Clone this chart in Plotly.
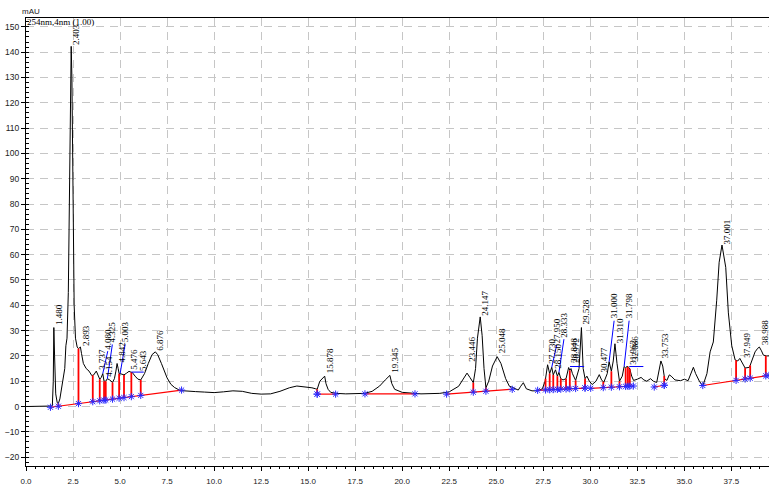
import numpy as np
import plotly.graph_objects as go

# ---------------- data ----------------
time_min = [0.0, 1.30, 1.40, 1.45, 1.48, 1.52, 1.58, 1.66, 1.72, 1.80, 1.90, 2.00, 2.06, 2.12, 2.18,
            2.25, 2.32, 2.37, 2.403, 2.44, 2.50, 2.56, 2.63, 2.72, 2.79, 2.893, 2.95, 3.05, 3.20,
            3.35, 3.50, 3.60, 3.737, 3.85, 3.92, 4.00, 4.080, 4.15, 4.24, 4.325, 4.45, 4.60, 4.70,
            4.78, 4.842, 4.90, 4.95, 5.003, 5.10, 5.21, 5.35, 5.476, 5.60, 5.643, 5.80, 5.95, 6.10,
            6.30, 6.50, 6.70, 6.876, 7.00, 7.20, 7.35, 7.50, 7.70, 7.90, 8.20, 8.60, 9.00, 9.50,
            10.0, 10.5, 11.0, 11.5, 12.0, 12.5, 13.0, 13.5, 14.0, 14.4, 14.8, 15.2, 15.40, 15.48,
            15.62, 15.75, 15.878, 15.95, 16.06, 16.2, 16.5, 17.0, 17.5, 18.0, 18.4, 18.8, 19.1,
            19.345, 19.45, 19.6, 20.0, 20.5, 21.0, 22.0, 22.5, 23.0, 23.25, 23.446, 23.6, 23.78,
            23.9, 24.0, 24.147, 24.25, 24.35, 24.45, 24.6, 24.8, 25.048, 25.25, 25.5, 25.7, 25.82,
            26.0, 26.17, 26.3, 26.44, 26.6, 26.9, 27.2, 27.45, 27.6, 27.73, 27.84, 27.95, 28.03,
            28.15, 28.25, 28.333, 28.43, 28.55, 28.71, 28.848, 28.91, 28.972, 29.05, 29.22, 29.4,
            29.528, 29.62, 29.72, 29.82, 29.95, 30.1, 30.3, 30.477, 30.6, 30.72, 30.9, 31.000,
            31.12, 31.22, 31.310, 31.42, 31.55, 31.7, 31.798, 31.88, 31.962, 32.02, 32.086, 32.2,
            32.3, 32.5, 32.7, 32.85, 33.0, 33.2, 33.35, 33.53, 33.68, 33.753, 33.85, 33.95, 34.07,
            34.2, 34.3, 34.5, 34.8, 35.0, 35.2, 35.35, 35.48, 35.6, 35.8, 35.98, 36.2, 36.37, 36.54,
            36.72, 36.85, 37.001, 37.1, 37.2, 37.34, 37.52, 37.7, 37.84, 37.949, 38.1, 38.23, 38.46,
            38.6, 38.76, 38.9, 38.988, 39.1, 39.2, 39.36, 39.5]
signal_mau = [0.0, 0.0, 0.2, 10.0, 31.2, 20.0, 5.0, 1.5, 1.2, 3.0, 8.0, 13.0, 15.0, 24.0, 27.0,
              45.0, 95.0, 135.0, 142.3, 130.0, 80.0, 40.0, 27.0, 23.5, 22.9, 23.5, 21.0, 17.0, 15.0,
              14.0, 12.2, 12.5, 14.0, 11.5, 10.8, 11.5, 13.0, 10.0, 10.0, 11.0, 10.5, 9.5, 11.0,
              14.0, 17.0, 15.0, 13.0, 13.0, 12.8, 12.5, 13.2, 13.9, 13.5, 13.5, 12.0, 10.8, 10.5,
              13.0, 17.0, 20.5, 21.6, 20.5, 17.0, 14.0, 11.3, 8.8, 7.5, 6.3, 6.0, 5.9, 5.7,
              5.5, 5.8, 6.2, 6.0, 5.2, 4.9, 5.0, 6.0, 7.4, 8.1, 7.8, 7.4, 7.0, 6.8,
              10.0, 11.0, 12.0, 9.0, 6.8, 5.6, 5.2, 5.0, 5.0, 5.2, 6.0, 8.1, 10.5,
              12.3, 9.0, 6.8, 5.6, 5.2, 5.0, 5.2, 5.8, 8.0, 11.0, 13.2, 11.5, 9.4,
              15.0, 27.0, 35.4, 28.0, 15.0, 7.4, 10.0, 16.0, 19.7, 17.0, 11.0, 8.0, 7.7,
              7.2, 6.5, 8.0, 9.4, 7.0, 6.2, 6.2, 7.0, 10.0, 16.5, 13.0, 15.5, 12.5,
              14.5, 12.0, 13.5, 11.0, 10.5, 11.0, 15.4, 14.3, 15.0, 13.0, 10.3, 15.0,
              31.2, 15.0, 11.0, 12.0, 10.0, 8.7, 10.0, 12.6, 10.5, 9.6, 13.0, 17.7,
              13.9, 18.0, 24.8, 17.0, 10.0, 12.0, 15.8, 15.2, 16.0, 15.5, 15.2, 12.0,
              10.3, 10.8, 11.5, 10.5, 10.0, 11.0, 10.0, 9.5, 15.0, 18.0, 16.0, 11.0, 10.3,
              12.5, 12.0, 10.5, 10.2, 10.8, 10.2, 13.0, 15.5, 13.0, 10.0, 8.1, 13.0, 21.6, 25.5,
              42.0, 57.0, 63.8, 60.0, 55.0, 37.0, 24.0, 18.4, 18.0, 19.0, 17.0, 15.2, 15.5,
              18.0, 21.6, 23.0, 23.5, 22.0, 20.3, 20.0, 20.0]

peak_rt = [1.480, 2.403, 2.893, 3.737, 4.080, 4.154, 4.325, 4.842, 5.003, 5.476, 5.643, 6.876,
           15.878, 19.345, 23.446, 24.147, 25.048, 27.730, 27.950, 28.150, 28.333, 28.848,
           28.972, 29.528, 30.477, 31.000, 31.310, 31.798, 31.962, 32.086, 33.753, 37.001,
           37.949, 38.988]

# integration baselines (start time, start value, end time, end value)
base_t0 = [1.30, 15.48, 18.02, 22.36, 27.20, 30.02, 33.40, 35.98]
base_v0 = [-0.3, 4.9, 5.0, 4.9, 6.4, 7.2, 7.7, 8.3]
base_t1 = [8.27, 16.46, 20.68, 25.85, 29.72, 32.29, 33.93, 39.50]
base_v1 = [6.5, 4.9, 5.0, 6.8, 7.3, 8.1, 8.4, 12.3]

# peak boundary drop lines (times)
drop_t = [1.72, 2.79, 3.55, 3.92, 4.15, 4.24, 4.60, 4.95, 5.21, 5.60, 6.10,
          15.48, 23.78, 24.45,
          27.62, 27.84, 28.03, 28.25, 28.43, 28.71, 28.91, 29.22, 29.72,
          30.69, 31.12, 31.55, 31.88, 32.00, 32.10, 33.93,
          37.75, 38.23, 38.50, 39.33]

# skim (tangent) marks: t start, t end, level
skim_t0 = [5.60, 28.92, 32.07]
skim_t1 = [6.26, 29.67, 32.82]
skim_v = [13.6, 15.8, 15.8]

# ---------------- layout constants ----------------
W, H = 769, 486
ML, MR, MT, MB = 26, 0, 18, 9
XR = [0.0, 39.5]
YR = [-23.5, 153.5]
px_x = (W - ML - MR) / (XR[1] - XR[0])
px_y = (H - MT - MB) / (YR[1] - YR[0])

# label placement tweaks (xshift px, lift px)
label_xshift = {5.643: 11, 28.150: 3, 37.949: 7}
label_lift = {1.480: 2, 4.080: 23, 4.154: 3, 4.325: 35, 5.003: 30, 15.878: 2, 19.345: 2,
              23.446: 10, 25.048: 2, 27.950: 23, 28.333: 34, 28.848: 4, 28.972: 5,
              29.528: 2, 30.477: 1, 31.000: 42, 31.798: 47, 32.086: 6, 33.753: 2, 38.988: 1}
leader_peaks = [4.080, 4.325, 5.003, 27.950, 28.333, 31.000, 31.798]

t_arr = np.array(time_min)
v_arr = np.array(signal_mau)


def base_at(t):
    for a, va, b, vb in zip(base_t0, base_v0, base_t1, base_v1):
        if a - 1e-9 <= t <= b + 1e-9:
            return va + (vb - va) * (t - a) / (b - a)
    return None


fig = go.Figure()

# chromatogram
fig.add_trace(go.Scatter(x=time_min, y=signal_mau, mode="lines",
                         line=dict(color="black", width=1), hoverinfo="skip"))

# baselines
bx, by = [], []
for a, va, b, vb in zip(base_t0, base_v0, base_t1, base_v1):
    bx += [a, b, None]
    by += [va, vb, None]
fig.add_trace(go.Scatter(x=bx, y=by, mode="lines", line=dict(color="#ff0000", width=1.2),
                         hoverinfo="skip"))

# drop lines
dx, dy = [], []
for t in drop_t:
    b = base_at(t)
    top = float(np.interp(t, t_arr, v_arr))
    dx += [t, t, None]
    dy += [b, top, None]
fig.add_trace(go.Scatter(x=dx, y=dy, mode="lines", line=dict(color="#ff0000", width=1.8),
                         hoverinfo="skip"))

# skim lines and leaders (blue)
lx, ly = [], []
for a, b, v in zip(skim_t0, skim_t1, skim_v):
    lx += [a, b, None]
    ly += [v, v, None]
for rt in leader_peaks:
    apex = float(np.interp(rt, t_arr, v_arr))
    xs = label_xshift.get(rt, 5)
    lx += [rt, rt + xs / px_x, None]
    ly += [apex, apex + label_lift.get(rt, 0) / px_y, None]
fig.add_trace(go.Scatter(x=lx, y=ly, mode="lines", line=dict(color="#0000ff", width=1),
                         hoverinfo="skip"))

# markers at baseline points
mx, my = [], []
for a, va, b, vb in zip(base_t0, base_v0, base_t1, base_v1):
    mx += [a, b]
    my += [va, vb]
for t in drop_t:
    mx.append(t)
    my.append(base_at(t))
fig.add_trace(go.Scatter(x=mx, y=my, mode="markers",
                         marker=dict(symbol="asterisk-open", size=6, color="#2a2aff",
                                     line=dict(color="#2a2aff", width=1)),
                         hoverinfo="skip"))

# peak labels
for rt in peak_rt:
    apex = float(np.interp(rt, t_arr, v_arr))
    fig.add_annotation(x=rt, y=apex, text=f"{rt:.3f}", showarrow=False, textangle=-90,
                       xanchor="center", yanchor="bottom",
                       xshift=label_xshift.get(rt, 5), yshift=label_lift.get(rt, 0),
                       font=dict(family="Liberation Serif", size=9, color="black"),
                       borderpad=0)

fig.add_annotation(xref="paper", yref="paper", x=0, y=1, xanchor="left", yanchor="top",
                   text="254nm,4nm (1.00)", showarrow=False, xshift=0, yshift=2,
                   font=dict(family="Liberation Serif", size=9, color="black"), borderpad=0)
fig.add_annotation(xref="paper", yref="paper", x=0, y=1, xanchor="left", yanchor="bottom",
                   text="mAU", showarrow=False, xshift=-5, yshift=1,
                   font=dict(family="Liberation Sans", size=8, color="#222"), borderpad=0)

gridstyle = dict(showgrid=True, gridcolor="#c6c6c6", gridwidth=1, griddash="8px,6px")
fig.update_layout(
    width=W, height=H, margin=dict(l=ML, r=MR, t=MT, b=MB),
    paper_bgcolor="white", plot_bgcolor="white", showlegend=False,
    xaxis=dict(range=XR, dtick=2.5, tick0=0, tickformat=".1f", ticks="outside", ticklen=4,
               tickcolor="black", showline=True, linecolor="black", linewidth=1, mirror=True,
               zeroline=False, ticklabelstandoff=3,
               tickfont=dict(family="Liberation Sans", size=8, color="#222"),
               minor=dict(dtick=0.5, ticks="outside", ticklen=2, tickcolor="black",
                          showgrid=False), **gridstyle),
    yaxis=dict(range=YR, dtick=10, tick0=0, ticks="outside", ticklen=4, tickcolor="black",
               showline=True, linecolor="black", linewidth=1, zeroline=False,
               tickfont=dict(family="Liberation Sans", size=8.5, color="#222"),
               minor=dict(dtick=2, ticks="inside", ticklen=3, tickcolor="black",
                          showgrid=False), **gridstyle),
)

fig.write_html("out.html")
